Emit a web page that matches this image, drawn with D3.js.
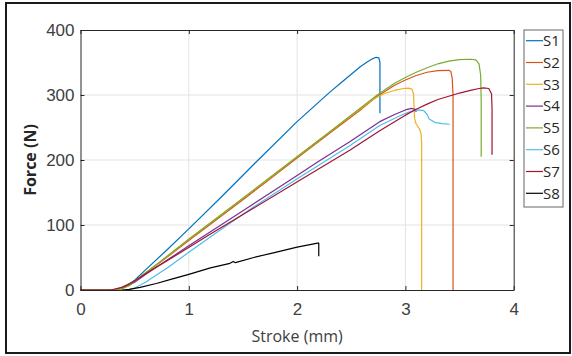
<!DOCTYPE html>
<html>
<head>
<meta charset="utf-8">
<script src="https://cdn.jsdelivr.net/npm/d3@7"></script>
<style>
  html, body { margin: 0; padding: 0; background: #fff; }
  svg { display: block; font-family: "Open Sans", "Noto Sans", sans-serif; }
</style>
</head>
<body>
<svg id="chart" width="572" height="356"></svg>
<script>
// ---- data (Stroke mm, Force N) ----
const seriesNames = ["S1", "S2", "S3", "S4", "S5", "S6", "S7", "S8"];
const seriesColors = ["#0072BD", "#D95319", "#EDB120", "#7E2F8E", "#77AC30", "#4DBEEE", "#A2142F", "#000000"];
const xTicks = [0, 1, 2, 3, 4];
const yTicks = [0, 100, 200, 300, 400];

const s1 = [[0,0],[0.33,0],[0.42,6],[0.5,15],[0.6,31],[0.8,62],[1.0,94],[1.3,143],[1.61,195],[2.0,259],[2.3,304],[2.4,318],[2.5,332],[2.58,343],[2.65,351],[2.7,356],[2.73,358],[2.755,357],[2.765,350],[2.765,272]];
const s2 = [[0,0],[0.3,0],[0.38,2],[0.45,7],[0.55,19],[0.7,38],[1.0,76],[1.5,139],[2.0,203],[2.3,241],[2.6,279],[2.74,298],[2.9,315],[3.0,323],[3.1,330],[3.2,335],[3.3,337.5],[3.4,338],[3.42,336],[3.432,326],[3.44,300],[3.44,0]];
const s3 = [[0,0],[0.3,0],[0.38,2],[0.45,7],[0.55,20],[0.7,39],[1.0,78],[1.5,141],[2.0,205],[2.3,243],[2.6,281],[2.7,293],[2.8,302],[2.9,307],[2.98,310],[3.03,310.5],[3.06,309],[3.075,302],[3.08,280],[3.085,264],[3.10,255],[3.13,248],[3.145,240],[3.15,225],[3.15,0]];
const s4 = [[0,0],[0.3,0],[0.4,4],[0.5,12],[0.6,24],[0.8,46],[1.0,68],[1.5,122],[1.933,169],[2.2,198],[2.486,228],[2.763,259],[2.9,270],[3.0,277],[3.055,279.5],[3.09,278],[3.1,274]];
const s5 = [[0,0],[0.3,0],[0.38,2],[0.45,7],[0.55,20],[0.7,39],[1.0,78],[1.5,141],[2.0,205],[2.3,243],[2.6,282],[2.74,300],[2.9,318],[3.0,327],[3.1,335],[3.2,342],[3.3,348],[3.4,352],[3.5,354.5],[3.6,355],[3.65,354],[3.68,348],[3.695,330],[3.70,290],[3.70,205]];
const s6 = [[0.43,0],[0.5,3],[0.6,12],[0.8,34],[1.0,58],[1.287,92],[1.6,128],[1.98,169],[2.486,222],[2.763,253],[2.95,268],[3.05,275],[3.116,277],[3.17,276],[3.2,270],[3.22,263],[3.27,258],[3.34,256],[3.41,255]];
const s7 = [[0,0],[0.28,0],[0.38,4],[0.48,12],[0.6,25],[0.8,45],[1.2,86],[1.6,126],[2.025,169],[2.486,215],[2.763,245],[2.9,259],[3.0,269],[3.1,278],[3.2,286],[3.3,293],[3.4,298],[3.5,303],[3.6,307],[3.68,310],[3.72,311],[3.77,310],[3.795,302],[3.80,280],[3.80,208]];
const s8 = [[0.38,0],[0.45,1],[0.55,4],[0.7,10],[0.85,17],[1.0,24],[1.2,34],[1.38,41],[1.41,44],[1.43,42],[1.6,50],[1.8,58],[2.0,66],[2.19,72],[2.2,72],[2.2,52]];
const seriesData = [s1, s2, s3, s4, s5, s6, s7, s8];

// ---- layout ----
const svg = d3.select("#chart");
const L = 80.5, R = 513.7, T = 30, B = 290;
const x = d3.scaleLinear().domain([0, 4]).range([L, R]);
const y = d3.scaleLinear().domain([0, 400]).range([B, T]);

// outer frame
svg.append("rect").attr("x", 6).attr("y", 3).attr("width", 564).attr("height", 350)
  .attr("fill", "#fff").attr("stroke", "#1a1a1a").attr("stroke-width", 2);

// grid
const grid = svg.append("g").attr("stroke", "#e3e3e3").attr("stroke-width", 1);
grid.selectAll("line.gx").data(xTicks.slice(1, -1)).join("line")
  .attr("x1", d => x(d)).attr("x2", d => x(d)).attr("y1", T).attr("y2", B);
grid.selectAll("line.gy").data(yTicks.slice(1, -1)).join("line")
  .attr("x1", L).attr("x2", R).attr("y1", d => y(d)).attr("y2", d => y(d));

// series
const line = d3.line().x(d => x(d[0])).y(d => y(d[1]));
svg.append("g").attr("fill", "none").attr("stroke-width", 1.2).attr("stroke-linejoin", "round")
  .selectAll("path").data(seriesData).join("path")
  .attr("stroke", (d, i) => seriesColors[i]).attr("d", line);

// axes
function styleAxis(g) {
  g.select(".domain").attr("stroke", "#262626");
  g.selectAll(".tick line").attr("stroke", "#262626");
  g.selectAll(".tick text").attr("fill", "#404040").attr("font-size", 17);
}
svg.append("g").attr("transform", `translate(0,${B})`)
  .call(d3.axisBottom(x).tickValues(xTicks).tickFormat(d3.format("d")).tickSize(-4).tickSizeOuter(0).tickPadding(13))
  .call(styleAxis);
svg.append("g").attr("transform", `translate(${L},0)`)
  .call(d3.axisLeft(y).tickValues(yTicks).tickFormat(d3.format("d")).tickSize(-4).tickSizeOuter(0).tickPadding(6))
  .call(styleAxis);
svg.append("g").attr("transform", `translate(0,${T})`)
  .call(d3.axisTop(x).tickValues(xTicks).tickFormat("").tickSize(-4).tickSizeOuter(0))
  .call(styleAxis);
svg.append("g").attr("transform", `translate(${R},0)`)
  .call(d3.axisRight(y).tickValues(yTicks).tickFormat("").tickSize(-4).tickSizeOuter(0))
  .call(styleAxis);

// axis titles
svg.append("text").attr("x", (L + R) / 2).attr("y", 342).attr("text-anchor", "middle")
  .attr("font-size", 16).attr("fill", "#404040").text("Stroke (mm)");
svg.append("text").attr("transform", `translate(36,${(T + B) / 2}) rotate(-90)`).attr("text-anchor", "middle")
  .attr("font-size", 16).attr("font-weight", "bold").attr("fill", "#262626").text("Force (N)");

// legend
const lg = svg.append("g");
lg.append("rect").attr("x", 524).attr("y", 30).attr("width", 39).attr("height", 177)
  .attr("fill", "#fff").attr("stroke", "#7f7f7f").attr("stroke-width", 1.2);
const items = lg.selectAll("g.item").data(seriesNames).join("g")
  .attr("transform", (d, i) => `translate(0,${40.7 + i * 21.8})`);
items.append("line").attr("x1", 526).attr("x2", 543).attr("y1", 0).attr("y2", 0)
  .attr("stroke", (d, i) => seriesColors[i]).attr("stroke-width", 1.2);
items.append("text").attr("x", 543).attr("y", 0).attr("dy", "0.35em")
  .attr("font-size", 15).attr("fill", "#262626").text(d => d);
</script>
</body>
</html>
